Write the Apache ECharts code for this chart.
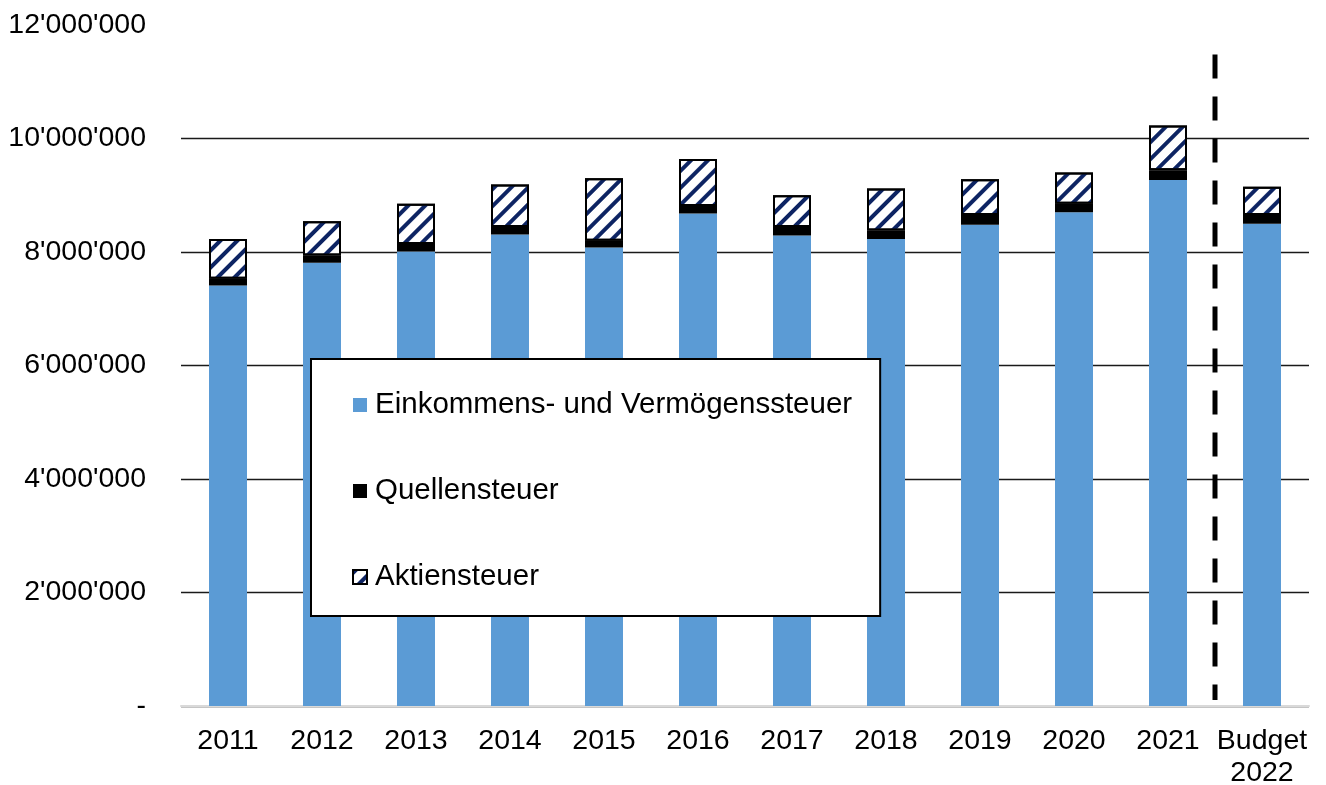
<!DOCTYPE html>
<html>
  <head>
    <meta charset="utf-8" />
    <title>Steuern</title>
    <script src="https://cdn.jsdelivr.net/npm/echarts@6/dist/echarts.min.js"></script>
  </head>
  <body style="margin: 0">
    <div id="main" style="width: 1326px; height: 785px"></div>
    <script type="text/javascript">
      var myChart = echarts.init(document.getElementById("main"));

      var categories = ["2011", "2012", "2013", "2014", "2015", "2016", "2017", "2018", "2019", "2020", "2021", "Budget\n2022"];
      var einkommen = [7410000, 7810000, 8010000, 8310000, 8080000, 8680000, 8290000, 8230000, 8480000, 8700000, 9270000, 8500000];
      var quellen = [120000, 130000, 130000, 130000, 120000, 130000, 150000, 150000, 170000, 150000, 170000, 150000];
      var aktien = [700000, 600000, 710000, 750000, 1100000, 830000, 560000, 740000, 630000, 550000, 790000, 500000];
      // vertical dashed separator between 2021 and Budget 2022
      var separator = [[11, 11480000], [11, 106000]];

      var font = "Liberation Sans, Arial, sans-serif";

      function fmt(v) {
        if (v === 0) return "-";
        return String(v).replace(/\B(?=(\d{3})+(?!\d))/g, "'");
      }

      option = {
        animation: false,
        textStyle: { fontFamily: font, color: "#000" },
        grid: { left: 181, right: 17, top: 25, bottom: 79, outerBoundsMode: "none" },
        legend: {
          orient: "vertical",
          left: 311,
          top: 359,
          padding: [31, 28, 24, 41],
          itemGap: 56,
          itemWidth: 14,
          itemHeight: 14,
          icon: "rect",
          backgroundColor: "#fff",
          borderColor: "#000",
          borderWidth: 2,
          data: ["Einkommens- und Vermögenssteuer", "Quellensteuer", "Aktiensteuer"],
          textStyle: { fontFamily: font, fontSize: 29.5, color: "#000", lineHeight: 28, padding: [0, 0, 0, 3] }
        },
        xAxis: [
          {
            type: "category",
            data: categories,
            axisLine: { lineStyle: { color: "#d9d9d9", width: 2 } },
            axisTick: { show: false },
            axisLabel: { interval: 0, fontFamily: font, fontSize: 28.5, color: "#000", lineHeight: 32, margin: 19 }
          },
          {
            type: "value",
            min: 0,
            max: 12,
            show: false
          }
        ],
        yAxis: {
          type: "value",
          min: 0,
          max: 12000000,
          interval: 2000000,
          axisLine: { show: false },
          axisTick: { show: false },
          splitLine: { showMaxLine: false, lineStyle: { color: "#1a1a1a", width: 1.3 } },
          axisLabel: { fontFamily: font, fontSize: 28.5, color: "#000", margin: 35, formatter: fmt }
        },
        series: [
          {
            name: "Einkommens- und Vermögenssteuer",
            type: "bar",
            stack: "all",
            barWidth: 38,
            itemStyle: { color: "#5b9bd5" },
            data: einkommen
          },
          {
            name: "Quellensteuer",
            type: "bar",
            stack: "all",
            itemStyle: { color: "#000" },
            data: quellen
          },
          {
            name: "Aktiensteuer",
            type: "bar",
            stack: "all",
            itemStyle: {
              color: "#fff",
              borderColor: "#000",
              borderWidth: 2,
              decal: {
                symbol: "rect",
                symbolSize: 1,
                color: "#0d2463",
                dashArrayX: [1, 0],
                dashArrayY: [4, 8],
                rotation: -Math.PI / 4
              }
            },
            data: aktien
          },
          {
            name: "Trennlinie",
            type: "line",
            xAxisIndex: 1,
            symbol: "none",
            lineStyle: { color: "#000", width: 5, type: [24, 18] },
            data: separator,
            z: 5
          }
        ]
      };
      myChart.setOption(option);
    </script>
  </body>
</html>
